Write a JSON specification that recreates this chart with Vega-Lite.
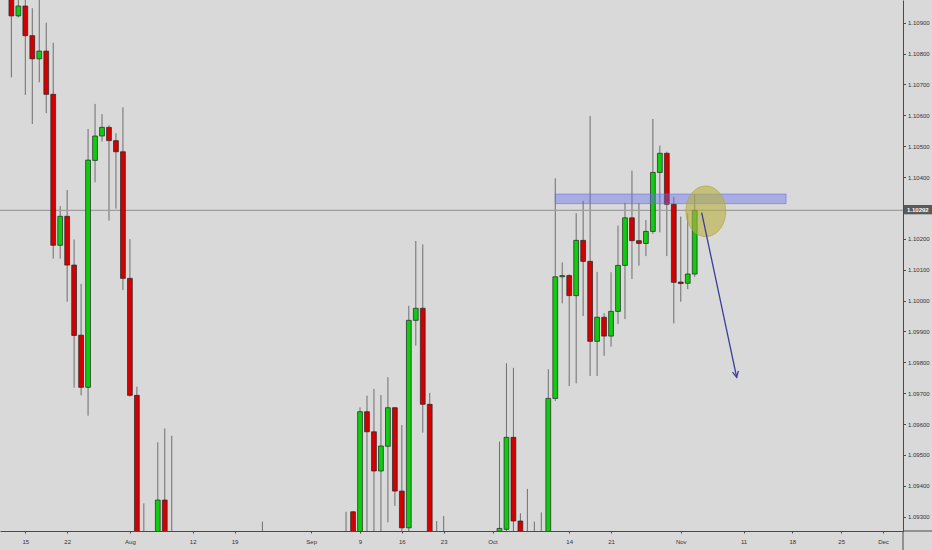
{
  "$schema": "https://vega.github.io/schema/vega-lite/v6.json",
  "width": 903,
  "height": 531,
  "autosize": {"type": "none"},
  "padding": {"left": 0, "top": 0, "right": 29, "bottom": 19},
  "background": "#d9d9d9",
  "config": {
    "view": {"stroke": null},
    "font": "Liberation Sans",
    "axis": {"labelOverlap": false, "labelFlush": false, "grid": false, "labelFont": "Liberation Sans", "labelFontSize": 6, "labelColor": "#333333", "tickColor": "#4a4a4a", "domainColor": "#4a4a4a", "domainWidth": 1},
    "axisX": {"tickSize": 2, "labelPadding": 5},
    "axisY": {"tickSize": 2.5, "labelPadding": 2}
  },
  "datasets": {
    "candles": [
      {"i": -2, "o": 1.10999, "h": 1.11022, "l": 1.10723, "c": 1.10922},
      {"i": -1, "o": 1.10922, "h": 1.10983, "l": 1.10917, "c": 1.10954},
      {"i": 0, "o": 1.10954, "h": 1.10983, "l": 1.10666, "c": 1.10858},
      {"i": 1, "o": 1.10858, "h": 1.10947, "l": 1.10572, "c": 1.10783},
      {"i": 2, "o": 1.10783, "h": 1.10980, "l": 1.10707, "c": 1.10808},
      {"i": 3, "o": 1.10808, "h": 1.10900, "l": 1.10607, "c": 1.10668},
      {"i": 4, "o": 1.10668, "h": 1.10835, "l": 1.10136, "c": 1.10179},
      {"i": 5, "o": 1.10179, "h": 1.10306, "l": 1.10136, "c": 1.10273},
      {"i": 6, "o": 1.10273, "h": 1.10358, "l": 1.09996, "c": 1.10115},
      {"i": 7, "o": 1.10115, "h": 1.10198, "l": 1.09718, "c": 1.09887},
      {"i": 8, "o": 1.09888, "h": 1.10054, "l": 1.09693, "c": 1.09719},
      {"i": 9, "o": 1.09719, "h": 1.10556, "l": 1.09627, "c": 1.10455},
      {"i": 10, "o": 1.10454, "h": 1.10637, "l": 1.10383, "c": 1.10533},
      {"i": 11, "o": 1.10533, "h": 1.10604, "l": 1.10515, "c": 1.10561},
      {"i": 12, "o": 1.10561, "h": 1.10568, "l": 1.10259, "c": 1.10518},
      {"i": 13, "o": 1.10518, "h": 1.10542, "l": 1.10298, "c": 1.10482},
      {"i": 14, "o": 1.10482, "h": 1.10626, "l": 1.10034, "c": 1.10072},
      {"i": 15, "o": 1.10072, "h": 1.10199, "l": 1.09689, "c": 1.09693},
      {"i": 16, "o": 1.09693, "h": 1.09721, "l": 1.0915, "c": 1.0920},
      {"i": 17, "o": 1.0920, "h": 1.09343, "l": 1.0916, "c": 1.0922},
      {"i": 19, "o": 1.0921, "h": 1.09541, "l": 1.0915, "c": 1.09354},
      {"i": 20, "o": 1.09354, "h": 1.09586, "l": 1.0912, "c": 1.0918},
      {"i": 21, "o": 1.0918, "h": 1.09562, "l": 1.0908, "c": 1.0914},
      {"i": 34, "o": 1.0915, "h": 1.09284, "l": 1.0905, "c": 1.0920},
      {"i": 46, "o": 1.0922, "h": 1.09316, "l": 1.0912, "c": 1.0918},
      {"i": 47, "o": 1.09316, "h": 1.09318, "l": 1.0919, "c": 1.0922},
      {"i": 48, "o": 1.0922, "h": 1.09654, "l": 1.0918, "c": 1.09640},
      {"i": 49, "o": 1.09640, "h": 1.09692, "l": 1.0920, "c": 1.09575},
      {"i": 50, "o": 1.09575, "h": 1.09714, "l": 1.0921, "c": 1.09448},
      {"i": 51, "o": 1.09448, "h": 1.09694, "l": 1.0920, "c": 1.09529},
      {"i": 52, "o": 1.09528, "h": 1.09752, "l": 1.09282, "c": 1.09653},
      {"i": 53, "o": 1.09653, "h": 1.09655, "l": 1.09335, "c": 1.09383},
      {"i": 54, "o": 1.09383, "h": 1.09597, "l": 1.0920, "c": 1.09264},
      {"i": 55, "o": 1.09264, "h": 1.09983, "l": 1.09251, "c": 1.09936},
      {"i": 56, "o": 1.09936, "h": 1.10193, "l": 1.09854, "c": 1.09975},
      {"i": 57, "o": 1.09975, "h": 1.10182, "l": 1.09572, "c": 1.09664},
      {"i": 58, "o": 1.09664, "h": 1.09701, "l": 1.0917, "c": 1.0921},
      {"i": 59, "o": 1.0921, "h": 1.09286, "l": 1.0917, "c": 1.0920},
      {"i": 60, "o": 1.0921, "h": 1.09302, "l": 1.0910, "c": 1.0915},
      {"i": 68, "o": 1.0924, "h": 1.09543, "l": 1.0918, "c": 1.09262},
      {"i": 69, "o": 1.09259, "h": 1.09797, "l": 1.0922, "c": 1.09557},
      {"i": 70, "o": 1.09557, "h": 1.09782, "l": 1.0924, "c": 1.09286},
      {"i": 71, "o": 1.09286, "h": 1.09311, "l": 1.0919, "c": 1.0922},
      {"i": 72, "o": 1.0921, "h": 1.09390, "l": 1.0915, "c": 1.0919},
      {"i": 73, "o": 1.0919, "h": 1.09284, "l": 1.0914, "c": 1.0922},
      {"i": 74, "o": 1.0920, "h": 1.09314, "l": 1.0916, "c": 1.0922},
      {"i": 75, "o": 1.0921, "h": 1.09778, "l": 1.0918, "c": 1.09683},
      {"i": 76, "o": 1.09683, "h": 1.10396, "l": 1.09675, "c": 1.10077},
      {"i": 77, "o": 1.10077, "h": 1.10124, "l": 1.09991, "c": 1.10081},
      {"i": 78, "o": 1.10081, "h": 1.10085, "l": 1.09723, "c": 1.10016},
      {"i": 79, "o": 1.10016, "h": 1.10283, "l": 1.09732, "c": 1.10195},
      {"i": 80, "o": 1.10195, "h": 1.10323, "l": 1.09950, "c": 1.10127},
      {"i": 81, "o": 1.10127, "h": 1.10598, "l": 1.09756, "c": 1.09868},
      {"i": 82, "o": 1.09868, "h": 1.10093, "l": 1.09756, "c": 1.09946},
      {"i": 83, "o": 1.09946, "h": 1.09959, "l": 1.09821, "c": 1.09885},
      {"i": 84, "o": 1.09885, "h": 1.10092, "l": 1.09851, "c": 1.09965},
      {"i": 85, "o": 1.09965, "h": 1.10243, "l": 1.09924, "c": 1.10114},
      {"i": 86, "o": 1.10114, "h": 1.10317, "l": 1.09940, "c": 1.10268},
      {"i": 87, "o": 1.10268, "h": 1.10421, "l": 1.10070, "c": 1.10194},
      {"i": 88, "o": 1.10194, "h": 1.10315, "l": 1.10113, "c": 1.10185},
      {"i": 89, "o": 1.10185, "h": 1.10261, "l": 1.10144, "c": 1.10224},
      {"i": 90, "o": 1.10224, "h": 1.10588, "l": 1.10216, "c": 1.10415},
      {"i": 91, "o": 1.10415, "h": 1.10502, "l": 1.10221, "c": 1.10477},
      {"i": 92, "o": 1.10477, "h": 1.10482, "l": 1.10144, "c": 1.10312},
      {"i": 93, "o": 1.10312, "h": 1.10336, "l": 1.09926, "c": 1.10059},
      {"i": 94, "o": 1.10060, "h": 1.10272, "l": 1.09996, "c": 1.10055},
      {"i": 95, "o": 1.10056, "h": 1.10283, "l": 1.10037, "c": 1.10086},
      {"i": 96, "o": 1.10086, "h": 1.10344, "l": 1.10077, "c": 1.10292}
    ],
    "price": [{"p": 1.10292, "i": 128, "i1": 126.0, "i2": 130.1, "p1": 1.102794, "p2": 1.103095, "label": "1.10292"}],
    "zone": [{"i": 76.0, "i2": 109.1, "p": 1.10345, "p2": 1.10314}],
    "circle": [{"i": 97.59, "p": 1.102891}],
    "arrow": [{"i": 97.0, "p": 1.102846, "i2": 102.02, "p2": 1.097515}],
    "frame": [
      {"i": 125.87, "i2": 125.87, "p": 1.092537, "p2": 1.09192},
      {"i": 125.87, "i2": 130.1, "p": 1.092537, "p2": 1.092537}
    ]
  },
  "layer": [
    {
      "data": {"name": "candles"},
      "mark": {"type": "rule", "color": "#6e6e6e", "strokeWidth": 1, "clip": true},
      "encoding": {
        "x": {
          "field": "i", "type": "quantitative",
          "scale": {"domain": [-3.63, 125.87], "zero": false, "nice": false, "padding": 0},
          "axis": {
            "orient": "bottom", "title": null, "tickCount": 40,
            "values": [0, 6, 15, 24, 30, 41, 48, 54, 60, 67, 78, 84, 94, 103, 110, 117, 123],
            "labelExpr": "datum.value == 15 ? 'Aug' : datum.value == 41 ? 'Sep' : datum.value == 67 ? 'Oct' : datum.value == 94 ? 'Nov' : datum.value == 123 ? 'Dec' : datum.value == 0 ? '15' : datum.value == 6 ? '22' : datum.value == 24 ? '12' : datum.value == 30 ? '19' : datum.value == 48 ? '9' : datum.value == 54 ? '16' : datum.value == 60 ? '23' : datum.value == 78 ? '14' : datum.value == 84 ? '21' : datum.value == 103 ? '11' : datum.value == 110 ? '18' : '25'",
            "labelOverlap": false
          }
        },
        "y": {
          "field": "l", "type": "quantitative",
          "scale": {"domain": [1.092537, 1.109735], "zero": false, "nice": false, "padding": 0},
          "axis": {
            "orient": "right", "title": null, "tickCount": 40,
            "values": [1.093, 1.094, 1.095, 1.096, 1.097, 1.098, 1.099, 1.1, 1.101, 1.102, 1.104, 1.105, 1.106, 1.107, 1.108, 1.109],
            "format": ".5f",
            "labelOverlap": false
          }
        },
        "y2": {"field": "h"}
      }
    },
    {
      "data": {"name": "price"},
      "mark": {"type": "rule", "color": "#9e9e9e", "strokeWidth": 1.2},
      "encoding": {
        "y": {"field": "p", "type": "quantitative", "axis": {"title": null}}
      }
    },
    {
      "data": {"name": "candles"},
      "mark": {"type": "bar", "size": 4.8, "stroke": "#222222", "strokeWidth": 0.7, "clip": true},
      "encoding": {
        "x": {"field": "i", "type": "quantitative", "axis": {"title": null}},
        "y": {"field": "o", "type": "quantitative", "axis": {"title": null}},
        "y2": {"field": "c"},
        "color": {"condition": {"test": "datum.c >= datum.o", "value": "#10cc10"}, "value": "#d40000"}
      }
    },
    {
      "data": {"name": "zone"},
      "mark": {"type": "rect", "fill": "#6470eb", "fillOpacity": 0.42, "stroke": "#6470eb", "strokeOpacity": 0.55, "strokeWidth": 1},
      "encoding": {
        "x": {"field": "i", "type": "quantitative", "axis": {"title": null}},
        "x2": {"field": "i2"},
        "y": {"field": "p", "type": "quantitative", "axis": {"title": null}},
        "y2": {"field": "p2"}
      }
    },
    {
      "data": {"name": "circle"},
      "mark": {"type": "point", "shape": "M -0.785 0 A 0.785 1 0 1 1 0.785 0 A 0.785 1 0 1 1 -0.785 0 Z", "size": 2560, "filled": true, "fill": "#b8b040", "fillOpacity": 0.6, "stroke": "#aea637", "strokeOpacity": 0.7, "strokeWidth": 1},
      "encoding": {
        "x": {"field": "i", "type": "quantitative", "axis": {"title": null}},
        "y": {"field": "p", "type": "quantitative", "axis": {"title": null}}
      }
    },
    {
      "data": {"name": "arrow"},
      "mark": {"type": "rule", "color": "#3d3d99", "strokeWidth": 1.3},
      "encoding": {
        "x": {"field": "i", "type": "quantitative", "axis": {"title": null}},
        "x2": {"field": "i2"},
        "y": {"field": "p", "type": "quantitative", "axis": {"title": null}},
        "y2": {"field": "p2"}
      }
    },
    {
      "data": {"name": "arrow"},
      "mark": {"type": "point", "shape": "M -0.5 -1 L 0 0 L 0.5 -1", "size": 144, "filled": false, "stroke": "#3d3d99", "strokeWidth": 1.3, "angle": 348, "opacity": 1},
      "encoding": {
        "x": {"field": "i2", "type": "quantitative", "axis": {"title": null}},
        "y": {"field": "p2", "type": "quantitative", "axis": {"title": null}}
      }
    },
    {
      "data": {"name": "frame"},
      "mark": {"type": "rule", "color": "#4a4a4a", "strokeWidth": 1, "clip": false},
      "encoding": {
        "x": {"field": "i", "type": "quantitative", "axis": {"title": null}},
        "x2": {"field": "i2"},
        "y": {"field": "p", "type": "quantitative", "axis": {"title": null}},
        "y2": {"field": "p2"}
      }
    },
    {
      "data": {"name": "price"},
      "mark": {"type": "rect", "fill": "#5a5a5a", "clip": false},
      "encoding": {
        "x": {"field": "i1", "type": "quantitative", "axis": {"title": null}},
        "x2": {"field": "i2"},
        "y": {"field": "p1", "type": "quantitative", "axis": {"title": null}},
        "y2": {"field": "p2"}
      }
    },
    {
      "data": {"name": "price"},
      "mark": {"type": "text", "color": "#ffffff", "fontSize": 6, "fontWeight": "bold", "align": "center", "baseline": "middle", "font": "Liberation Sans", "clip": false},
      "encoding": {
        "x": {"field": "i", "type": "quantitative", "axis": {"title": null}},
        "y": {"field": "p", "type": "quantitative", "axis": {"title": null}},
        "text": {"field": "label"}
      }
    }
  ]
}
